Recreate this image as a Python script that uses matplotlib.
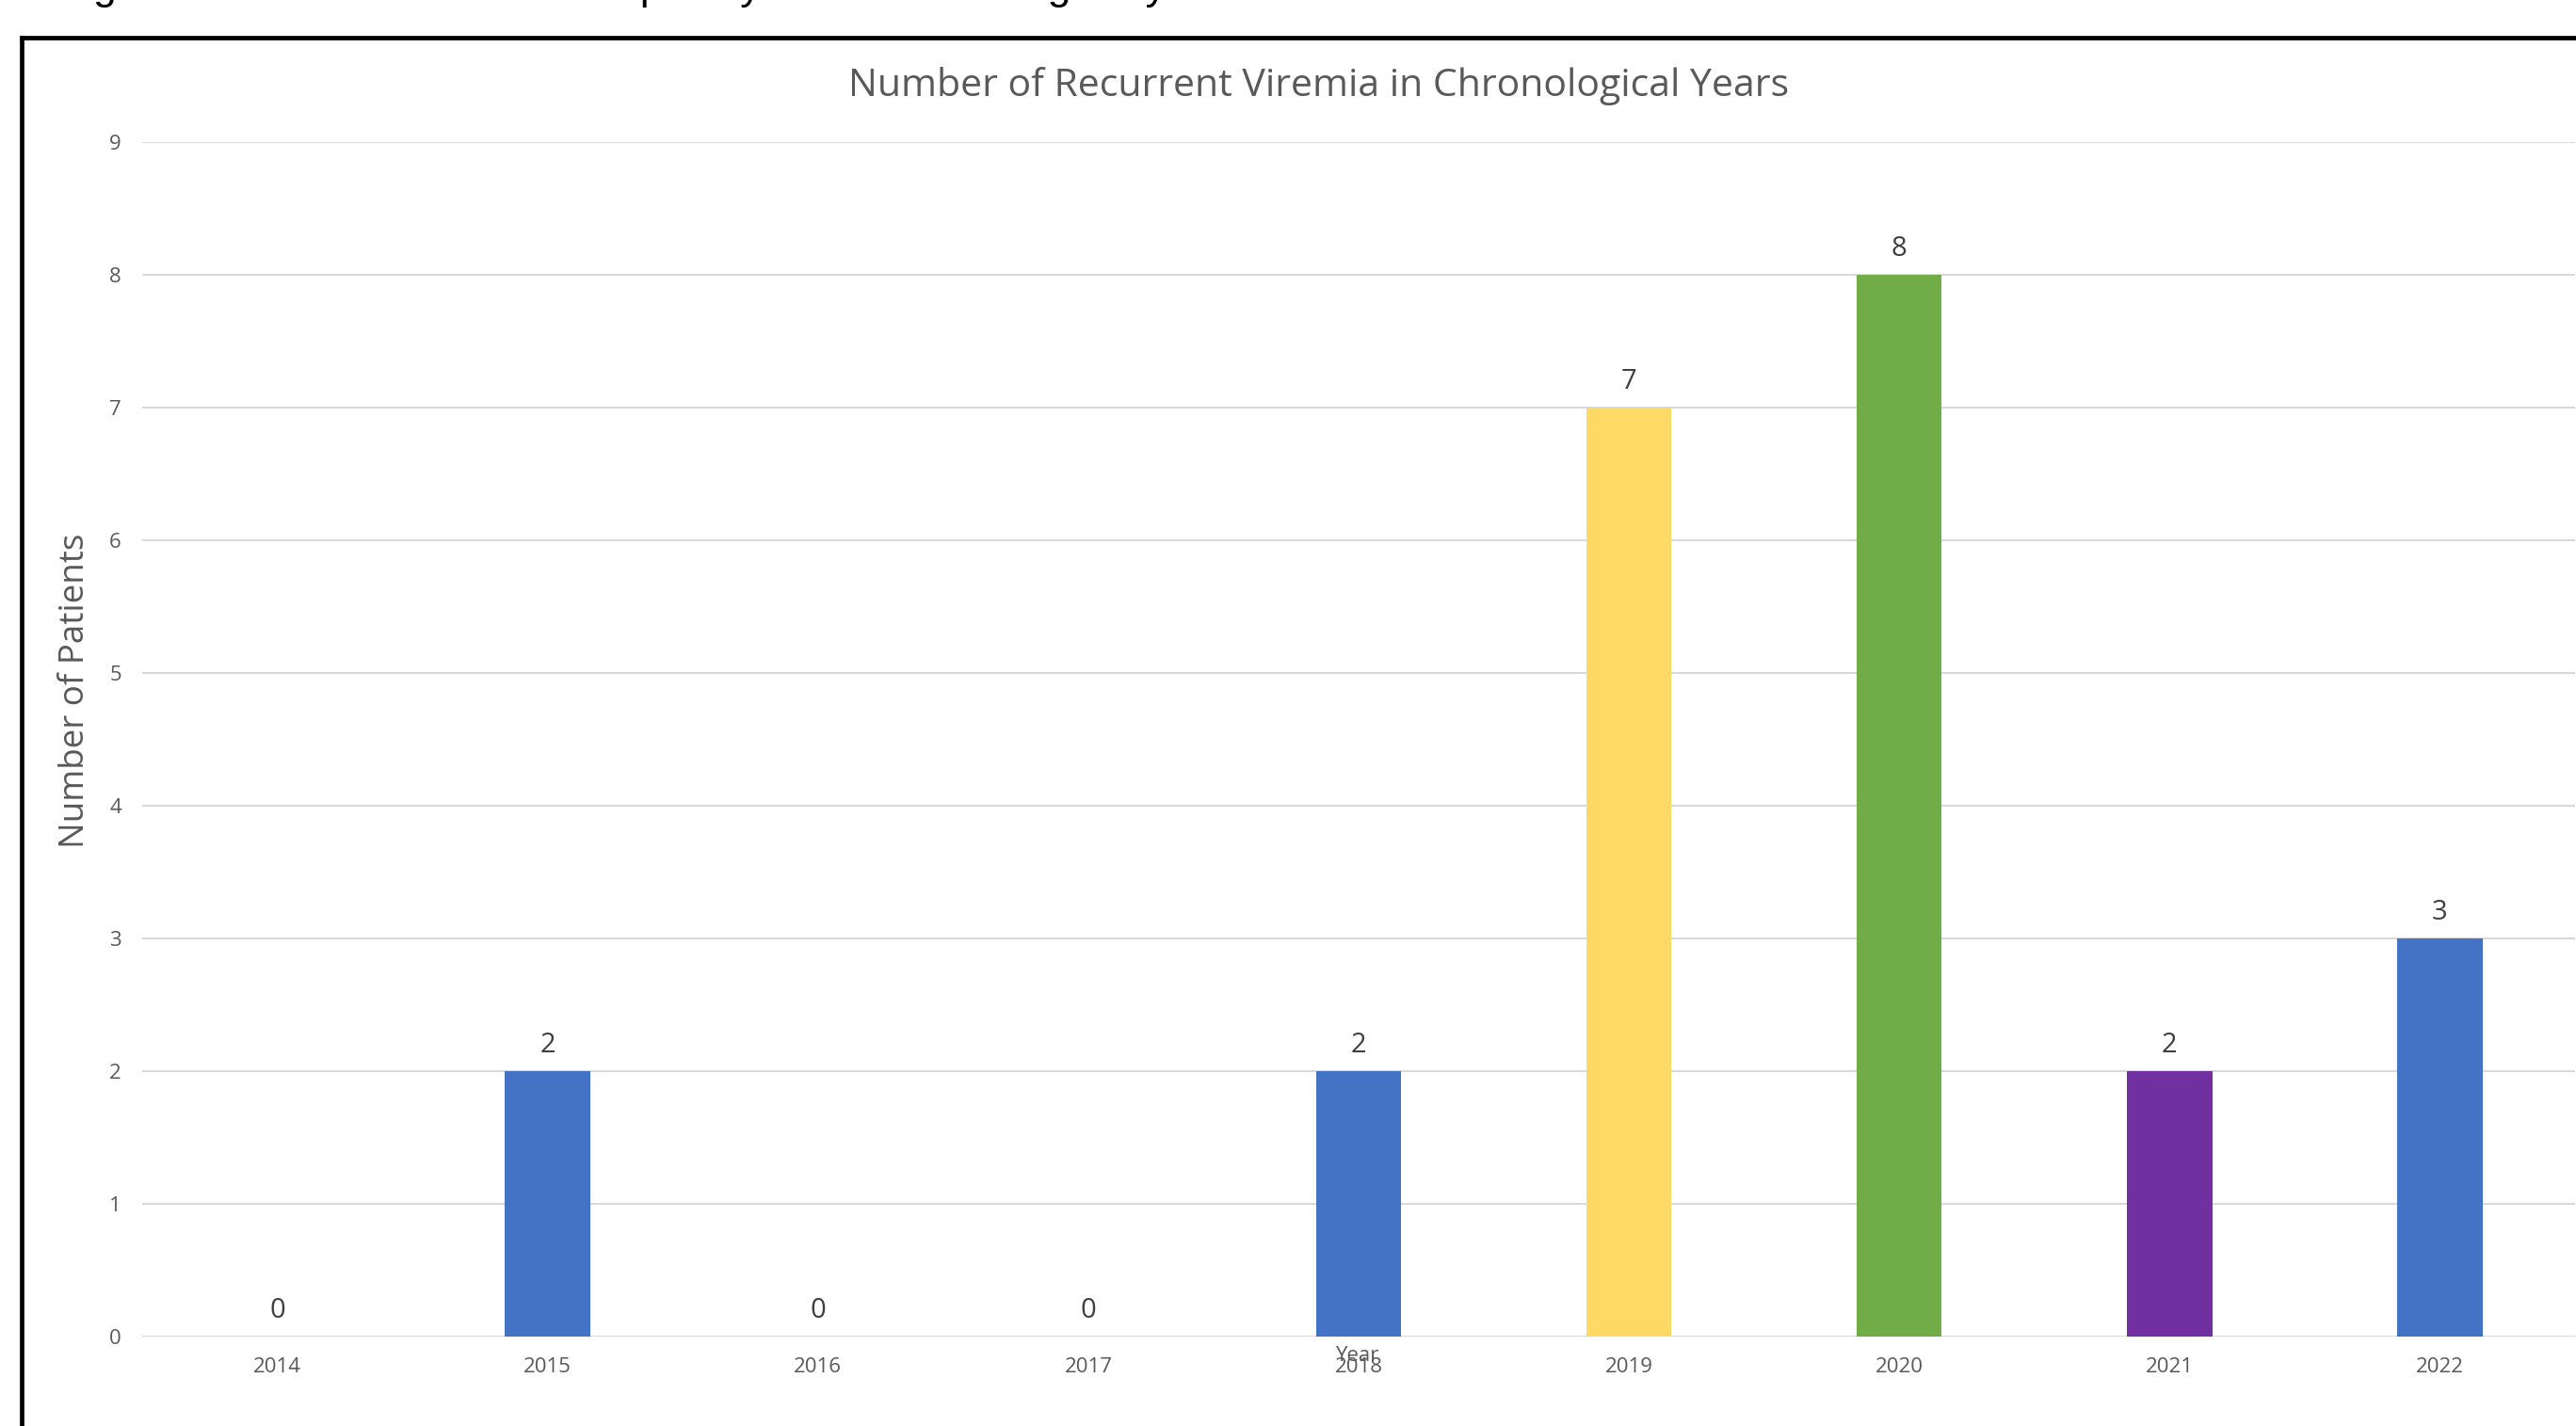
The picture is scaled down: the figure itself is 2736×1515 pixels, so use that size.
import matplotlib
matplotlib.use("Agg")
import matplotlib.pyplot as plt
from matplotlib.lines import Line2D

years = ["2014", "2015", "2016", "2017", "2018", "2019", "2020", "2021", "2022"]
patients = [0, 2, 0, 0, 2, 7, 8, 2, 3]
bar_colors = ["#4472C4", "#4472C4", "#4472C4", "#4472C4", "#4472C4",
              "#FFD966", "#70AD47", "#7030A0", "#4472C4"]
y_ticks = [0, 1, 2, 3, 4, 5, 6, 7, 8, 9]

plt.rcParams["font.family"] = ["Open Sans", "DejaVu Sans"]

W, H = 2736, 1515
fig = plt.figure(figsize=(W / 100, H / 100), dpi=100)
fig.patch.set_facecolor("white")

# plot area in pixels
left, right, y0, y9 = 151, 2735, 1420, 151
ax = fig.add_axes([left / W, 1 - y0 / H, (right - left) / W, (y0 - y9) / H])

x = list(range(len(years)))
ax.bar(x, patients, width=0.315, color=bar_colors, zorder=3)
ax.set_xlim(-0.5, len(years) - 0.5)
ax.set_ylim(0, 9)
ax.set_yticks(y_ticks)
ax.set_xticks(x)
ax.set_xticklabels(years)
ax.grid(axis="y", color="#D9D9D9", linewidth=1.5, zorder=0)
ax.grid(axis="x", visible=False)
for s in ax.spines.values():
    s.set_visible(False)
ax.axhline(0, color="#D9D9D9", linewidth=2, zorder=2)
ax.tick_params(axis="both", length=0, labelsize=16, labelcolor="#595959")
ax.tick_params(axis="x", pad=15.5)
ax.tick_params(axis="y", pad=16)

for xi, v in zip(x, patients):
    ax.annotate(str(v), (xi, v), xytext=(0, 19.5), textcoords="offset points",
                ha="center", va="center", fontsize=21, color="#404040")

fig.text(1401 / W, 1 - 92 / H, "Number of Recurrent Viremia in Chronological Years",
         ha="center", va="center", fontsize=29.5, color="#595959")
fig.text(80 / W, 1 - 734 / H, "Number of Patients", rotation=90,
         ha="center", va="center", fontsize=26.5, color="#595959")
fig.text(1441 / W, 1 - 1440 / H, "Year", ha="center", va="center",
         fontsize=16, color="#595959")

# caption above the frame, cut off by the top edge
fig.text(62 / W, 1 + 1 / H, "Figure 3: Recurrent viremia frequency in the chronological years",
         ha="left", va="baseline", fontsize=32, color="black", family="Liberation Sans")

# black frame around the chart
fig.add_artist(Line2D([23 / W, 1.0], [1 - 40 / H, 1 - 40 / H], color="black",
                      linewidth=3.4, transform=fig.transFigure))
fig.add_artist(Line2D([23 / W, 23 / W], [0, 1 - 40 / H], color="black",
                      linewidth=3.4, transform=fig.transFigure))

fig.savefig("out.png", dpi=100)
